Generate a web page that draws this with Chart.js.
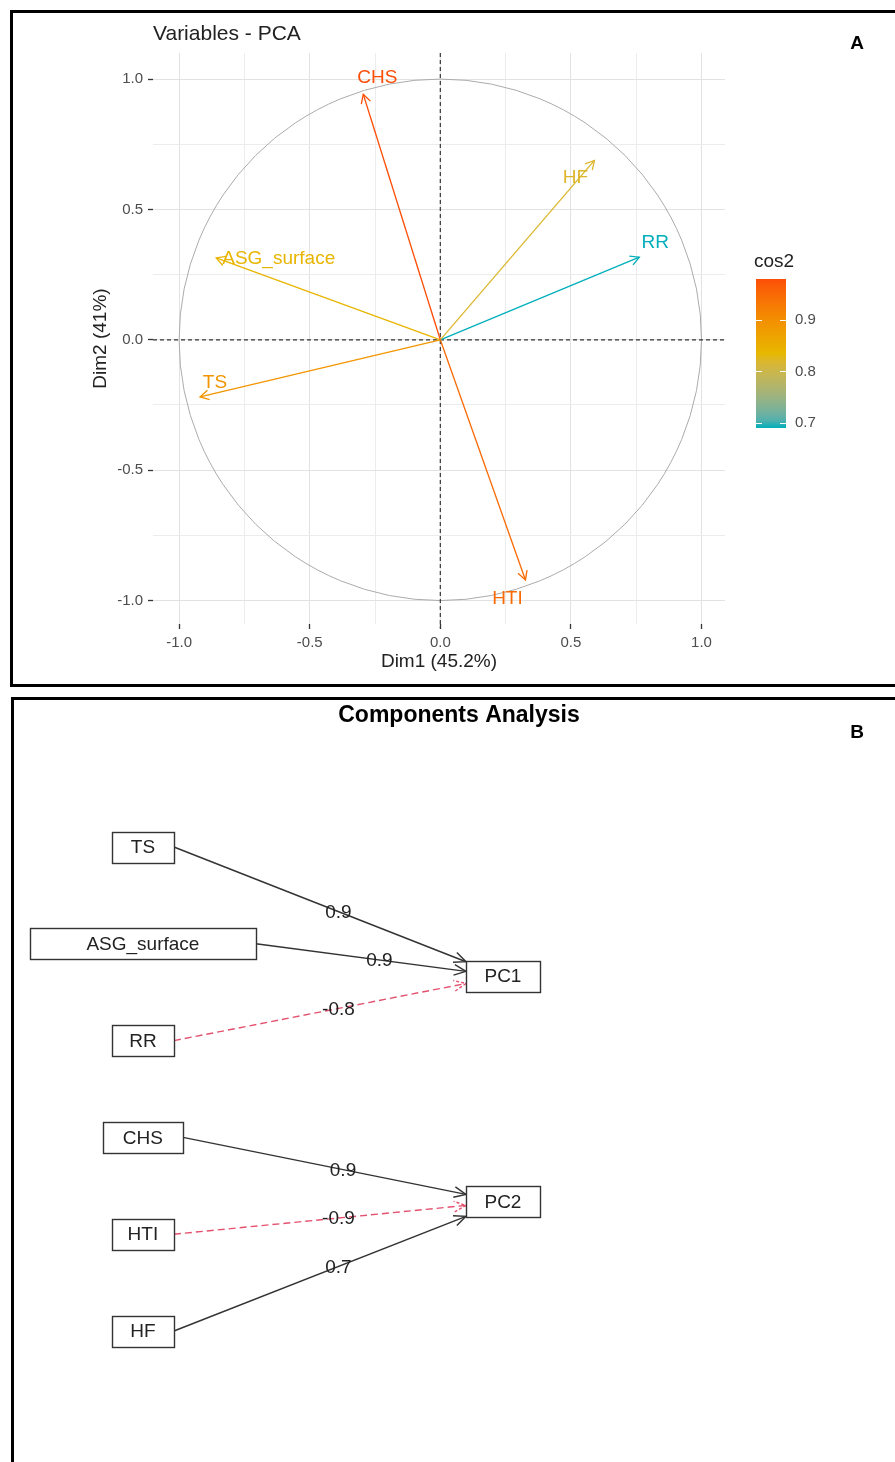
<!DOCTYPE html>
<html>
<head>
<meta charset="utf-8">
<title>Variables - PCA / Components Analysis</title>
<script src="https://cdn.jsdelivr.net/npm/chart.js@4.4.1/dist/chart.umd.min.js"></script>
<style>
  html, body { margin: 0; padding: 0; background: #fff; overflow: hidden; }
  #wrap { position: relative; width: 895px; height: 1462px; overflow: hidden; }
  canvas { position: absolute; left: 0; }
  #pca { top: 0; }
  #fa { top: 690px; }
  .frame { position: absolute; border: 3px solid #000; border-right: none; box-sizing: border-box; pointer-events: none; }
  #frameA { left: 10px; top: 10px; width: 900px; height: 677px; }
  #frameB { left: 11px; top: 697px; width: 900px; height: 800px; border-bottom: none; }
</style>
</head>
<body>
<div id="wrap">
  <canvas id="pca" width="895" height="690"></canvas>
  <canvas id="fa" width="895" height="772"></canvas>
  <div class="frame" id="frameA"></div>
  <div class="frame" id="frameB"></div>
</div>
<script>
// ---- panel A data (variables - PCA) ----
const varNames = ['CHS', 'HF', 'RR', 'ASG_surface', 'TS', 'HTI'];
const dim1 = [-0.295, 0.590, 0.762, -0.858, -0.920, 0.326];
const dim2 = [0.942, 0.688, 0.317, 0.314, -0.219, -0.921];
const cos2 = [0.98, 0.82, 0.69, 0.84, 0.89, 0.95];
const axisTicks = [-1.0, -0.5, 0.0, 0.5, 1.0];
const cos2Ticks = [0.7, 0.8, 0.9];

// ---- panel B data (components analysis) ----
const items = ['TS', 'ASG_surface', 'RR', 'CHS', 'HTI', 'HF'];
const itemFactor = [0, 0, 0, 1, 1, 1];
const loadings = [0.9, 0.9, -0.8, 0.9, -0.9, 0.7];
const factors = ['PC1', 'PC2'];

const FONT = '"Liberation Sans", Arial, Helvetica, sans-serif';
Chart.defaults.font.family = FONT;

// colour helpers: gradient is interpolated in Lab like ggplot does
function toLab(rgb) {
  const lin = rgb.map(c => { c /= 255; return c <= 0.04045 ? c / 12.92 : Math.pow((c + 0.055) / 1.055, 2.4); });
  const X = (lin[0] * 0.4124 + lin[1] * 0.3576 + lin[2] * 0.1805) / 0.95047;
  const Y = lin[0] * 0.2126 + lin[1] * 0.7152 + lin[2] * 0.0722;
  const Z = (lin[0] * 0.0193 + lin[1] * 0.1192 + lin[2] * 0.9505) / 1.08883;
  const f = t => t > 0.008856 ? Math.cbrt(t) : 7.787 * t + 16 / 116;
  return [116 * f(Y) - 16, 500 * (f(X) - f(Y)), 200 * (f(Y) - f(Z))];
}
function fromLab(lab) {
  const fy = (lab[0] + 16) / 116, fx = fy + lab[1] / 500, fz = fy - lab[2] / 200;
  const g = t => t * t * t > 0.008856 ? t * t * t : (t - 16 / 116) / 7.787;
  const X = g(fx) * 0.95047, Y = g(fy), Z = g(fz) * 1.08883;
  const r = X * 3.2406 + Y * -1.5372 + Z * -0.4986;
  const gg = X * -0.9689 + Y * 1.8758 + Z * 0.0415;
  const b = X * 0.0557 + Y * -0.2040 + Z * 1.0570;
  return [r, gg, b].map(c => {
    c = c <= 0.0031308 ? 12.92 * c : 1.055 * Math.pow(c, 1 / 2.4) - 0.055;
    return Math.round(Math.max(0, Math.min(1, c)) * 255);
  });
}
const gradLab = [[0, 175, 187], [231, 184, 0], [252, 78, 7]].map(toLab);
const cosMin = Math.min(...cos2), cosMax = Math.max(...cos2);
function cosColor(v) {
  let t = (v - cosMin) / (cosMax - cosMin);
  t = Math.max(0, Math.min(1, t));
  const a = t < 0.5 ? gradLab[0] : gradLab[1];
  const b = t < 0.5 ? gradLab[1] : gradLab[2];
  const u = t < 0.5 ? t * 2 : (t - 0.5) * 2;
  const c = fromLab(a.map((x, i) => x + (b[i] - x) * u));
  return 'rgb(' + c.join(',') + ')';
}

function isMajor(v) {
  return axisTicks.some(t => Math.abs(t - v) < 1e-6);
}
function quarterTicks(scale) {
  scale.ticks = scale.ticks.filter(t => Math.abs(t.value * 4 - Math.round(t.value * 4)) < 1e-6);
}

function openArrow(ctx, x, y, ang, len, spread) {
  ctx.beginPath();
  ctx.moveTo(x - len * Math.cos(ang - spread), y - len * Math.sin(ang - spread));
  ctx.lineTo(x, y);
  ctx.lineTo(x - len * Math.cos(ang + spread), y - len * Math.sin(ang + spread));
  ctx.stroke();
}

// label nudges in px from the arrow tip
const labelNudge = {
  CHS: [14, -16, 'center'],
  HF: [-19, 17, 'center'],
  RR: [16, -14, 'center'],
  ASG_surface: [6, 1, 'left'],
  TS: [15, -14, 'center'],
  HTI: [-18, 19, 'center']
};

const pcaDecor = {
  id: 'pcaDecor',
  beforeDatasetsDraw(chart) {
    const ctx = chart.ctx, xs = chart.scales.x, ys = chart.scales.y, area = chart.chartArea;
    const cx = xs.getPixelForValue(0), cy = ys.getPixelForValue(0);
    const rx = xs.getPixelForValue(1) - cx, ry = cy - ys.getPixelForValue(1);
    ctx.save();
    // correlation circle
    ctx.strokeStyle = '#ababab';
    ctx.lineWidth = 1;
    ctx.beginPath();
    ctx.ellipse(cx, cy, rx, ry, 0, 0, Math.PI * 2);
    ctx.stroke();
    // dashed zero lines
    ctx.strokeStyle = '#333';
    ctx.lineWidth = 1.2;
    ctx.setLineDash([4, 3]);
    ctx.beginPath();
    ctx.moveTo(area.left, cy); ctx.lineTo(area.right, cy);
    ctx.moveTo(cx, area.top); ctx.lineTo(cx, area.bottom + 4);
    ctx.stroke();
    ctx.restore();
  },
  afterDatasetsDraw(chart) {
    const ctx = chart.ctx;
    ctx.save();
    varNames.forEach((name, i) => {
      const pts = chart.getDatasetMeta(i).data;
      const p0 = pts[0], p1 = pts[1];
      const ang = Math.atan2(p1.y - p0.y, p1.x - p0.x);
      const col = cosColor(cos2[i]);
      ctx.strokeStyle = col;
      ctx.lineWidth = 1.3;
      openArrow(ctx, p1.x, p1.y, ang, 10, 0.5);
      const n = labelNudge[name];
      ctx.fillStyle = col;
      ctx.font = '19px ' + FONT;
      ctx.textAlign = n[2];
      ctx.textBaseline = 'middle';
      ctx.fillText(name, p1.x + n[0], p1.y + n[1]);
    });
    ctx.restore();
  },
  afterDraw(chart) {
    const ctx = chart.ctx, area = chart.chartArea;
    ctx.save();
    ctx.fillStyle = '#222';
    ctx.textBaseline = 'middle';
    ctx.textAlign = 'left';
    ctx.font = '21px ' + FONT;
    ctx.fillText('Variables - PCA', area.left, 34);

    // colour bar legend
    const lx = 756, lw = 30, top = 279, bot = 428;
    const yOf = v => bot - (v - cosMin) / (cosMax - cosMin) * (bot - top);
    ctx.font = '19px ' + FONT;
    ctx.fillText('cos2', lx - 2, 262);
    const g = ctx.createLinearGradient(0, bot, 0, top);
    for (let s = 0; s <= 20; s++) {
      g.addColorStop(s / 20, cosColor(cosMin + (cosMax - cosMin) * s / 20));
    }
    ctx.fillStyle = g;
    ctx.fillRect(lx, top, lw, bot - top);
    ctx.strokeStyle = '#fff';
    ctx.lineWidth = 1.2;
    ctx.font = '15px ' + FONT;
    ctx.fillStyle = '#4d4d4d';
    cos2Ticks.forEach(v => {
      const y = Math.round(yOf(v)) + 0.5;
      ctx.beginPath();
      ctx.moveTo(lx, y); ctx.lineTo(lx + 6, y);
      ctx.moveTo(lx + lw - 6, y); ctx.lineTo(lx + lw, y);
      ctx.stroke();
      ctx.fillText(v.toFixed(1), lx + lw + 9, yOf(v));
    });

    ctx.fillStyle = '#000';
    ctx.textAlign = 'center';
    ctx.font = 'bold 19px ' + FONT;
    ctx.fillText('A', 857, 44);
    ctx.restore();
  }
};

const gridCol = ctx => isMajor(ctx.tick.value) ? '#e2e2e2' : '#ececec';
const tickCol = ctx => isMajor(ctx.tick.value) ? '#333' : 'rgba(0,0,0,0)';

new Chart(document.getElementById('pca'), {
  type: 'scatter',
  data: {
    datasets: varNames.map((name, i) => ({
      label: name,
      data: [{ x: 0, y: 0 }, { x: dim1[i], y: dim2[i] }],
      showLine: true,
      borderColor: cosColor(cos2[i]),
      borderWidth: 1.3,
      pointRadius: 0
    }))
  },
  options: {
    responsive: false,
    animation: false,
    layout: { padding: { top: 53, right: 170, bottom: 0, left: 0 } },
    plugins: { legend: { display: false }, tooltip: { enabled: false } },
    scales: {
      x: {
        type: 'linear', min: -1.1, max: 1.09,
        afterBuildTicks: quarterTicks,
        afterFit: s => { s.height = 66; },
        ticks: {
          stepSize: 0.25, includeBounds: false, autoSkip: false, maxRotation: 0, padding: 5,
          color: '#4d4d4d', font: { size: 15 },
          callback: v => isMajor(v) ? v.toFixed(1) : ''
        },
        grid: { color: gridCol, lineWidth: 1, tickLength: 5, tickColor: tickCol, tickWidth: 1.3 },
        border: { display: false },
        title: { display: true, text: 'Dim1 (45.2%)', color: '#222', font: { size: 19 }, padding: { top: 0, bottom: 17 } }
      },
      y: {
        type: 'linear', min: -1.09, max: 1.1,
        afterBuildTicks: quarterTicks,
        afterFit: s => { s.width = 153; },
        ticks: {
          stepSize: 0.25, includeBounds: false, autoSkip: false, padding: 5,
          color: '#4d4d4d', font: { size: 15 },
          callback: v => isMajor(v) ? v.toFixed(1) : ''
        },
        grid: { color: gridCol, lineWidth: 1, tickLength: 5, tickColor: tickCol, tickWidth: 1.3 },
        border: { display: false },
        title: { display: true, text: 'Dim2 (41%)', color: '#222', font: { size: 19 }, padding: { top: 89, bottom: 0 } }
      }
    }
  },
  plugins: [pcaDecor]
});

// ---- panel B: path diagram ----
const factorGap = 2.33;
const itemMid = (items.length - 1) / 2;
const nodes = items.map((n, i) => ({ x: 0, y: i }))
  .concat(factors.map((n, k) => ({ x: 1, y: itemMid + (k - (factors.length - 1) / 2) * factorGap })));

const EDGE = '#333', RED = '#e4516e';
const boxFont = '19px ' + FONT;
function boxSize(ctx, name) {
  ctx.font = boxFont;
  return { w: Math.max(62, 2 * ctx.measureText(name).width), h: 31 };
}

const pathDiagram = {
  id: 'pathDiagram',
  afterDatasetsDraw(chart) {
    const ctx = chart.ctx;
    const pts = chart.getDatasetMeta(0).data;
    const names = items.concat(factors);
    const sizes = names.map(n => boxSize(ctx, n));
    ctx.save();
    // edges
    items.forEach((name, i) => {
      const k = items.length + itemFactor[i];
      const s = pts[i], f = pts[k];
      const sx = s.x + sizes[i].w / 2, sy = s.y;
      const dx = f.x - sx, dy = f.y - sy;
      const u = Math.min(sizes[k].w / 2 / Math.abs(dx), sizes[k].h / 2 / Math.max(Math.abs(dy), 1e-6));
      const ex = f.x - dx * u, ey = f.y - dy * u;
      const neg = loadings[i] < 0;
      ctx.strokeStyle = neg ? RED : EDGE;
      ctx.lineWidth = 1.4;
      ctx.setLineDash(neg ? [7, 4] : []);
      ctx.beginPath();
      ctx.moveTo(sx, sy);
      ctx.lineTo(ex, ey);
      ctx.stroke();
      ctx.setLineDash(neg ? [3, 2] : []);
      openArrow(ctx, ex, ey, Math.atan2(dy, dx), 13, 0.42);
      ctx.setLineDash([]);
      ctx.fillStyle = '#222';
      ctx.font = boxFont;
      ctx.textAlign = 'center';
      ctx.textBaseline = 'middle';
      ctx.fillText(loadings[i].toFixed(1), (sx + f.x) / 2, (sy + f.y) / 2 + 1);
    });
    // boxes
    names.forEach((name, i) => {
      const p = pts[i], sz = sizes[i];
      const x0 = Math.round(p.x - sz.w / 2) + 0.5, y0 = Math.round(p.y - sz.h / 2) + 0.5;
      ctx.fillStyle = '#fff';
      ctx.fillRect(x0, y0, sz.w, sz.h);
      ctx.strokeStyle = '#333';
      ctx.lineWidth = 1.4;
      ctx.strokeRect(x0, y0, Math.round(sz.w), sz.h);
      ctx.fillStyle = '#222';
      ctx.font = boxFont;
      ctx.textAlign = 'center';
      ctx.textBaseline = 'middle';
      ctx.fillText(name, p.x, p.y + 1);
    });
    ctx.fillStyle = '#000';
    ctx.font = 'bold 23px ' + FONT;
    ctx.fillText('Components Analysis', 459, 26);
    ctx.font = 'bold 19px ' + FONT;
    ctx.fillText('B', 857, 43);
    ctx.restore();
  }
};

new Chart(document.getElementById('fa'), {
  type: 'scatter',
  data: { datasets: [{ label: 'nodes', data: nodes, pointRadius: 0 }] },
  options: {
    responsive: false,
    animation: false,
    layout: { padding: 0 },
    plugins: { legend: { display: false }, tooltip: { enabled: false } },
    scales: {
      x: { type: 'linear', display: false, min: -0.397, max: 2.089 },
      y: { type: 'linear', display: false, reverse: true, min: -1.622, max: 6.353 }
    }
  },
  plugins: [pathDiagram]
});
</script>
</body>
</html>
